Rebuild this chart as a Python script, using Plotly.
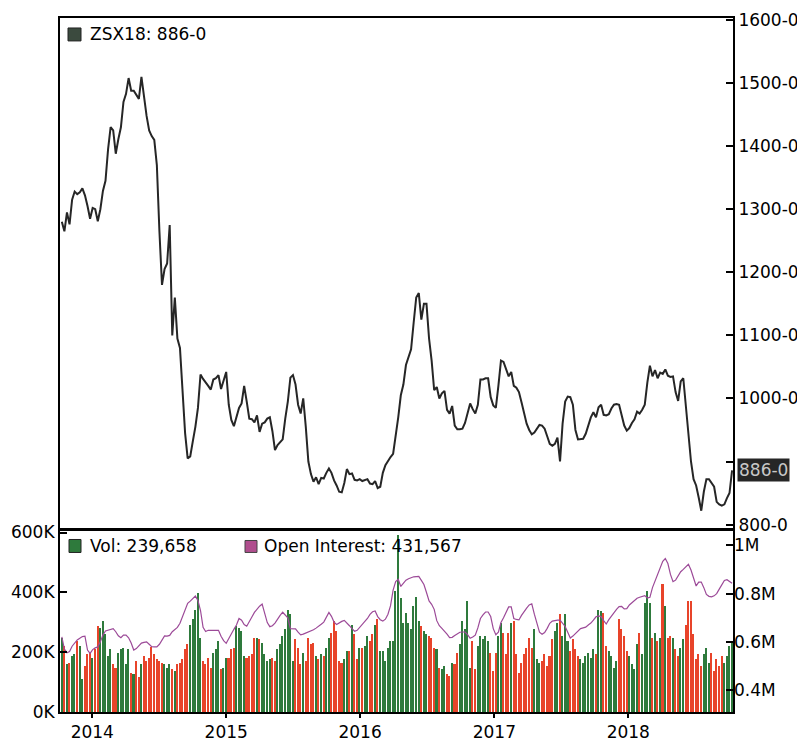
import pandas as pd
import plotly.graph_objects as go

# ---------------- data ----------------
week_start = "2013-10-10"
n_weeks = 262

price = [
    1280, 1265, 1295, 1276, 1315, 1328, 1324, 1327, 1333, 1322,
    1305, 1285, 1302, 1300, 1281, 1300, 1329, 1345, 1395, 1430,
    1425, 1388, 1411, 1430, 1470, 1483, 1508, 1488, 1488, 1482,
    1475, 1510, 1478, 1448, 1425, 1416, 1410, 1370, 1265, 1180,
    1205, 1214, 1275, 1100, 1160, 1095, 1080, 1003, 945, 905,
    908, 932, 955, 985, 1038, 1031, 1026, 1020, 1014, 1030,
    1032, 1037, 1015, 1027, 1042, 990, 966, 956, 970, 985,
    992, 1020, 995, 968, 967, 962, 973, 947, 960, 962,
    968, 970, 948, 918, 926, 931, 935, 968, 995, 1033,
    1037, 1022, 990, 976, 1000, 955, 900, 880, 868, 875,
    864, 874, 873, 882, 889, 882, 870, 862, 852, 851,
    866, 888, 880, 881, 871, 870, 872, 869, 871, 872,
    865, 864, 869, 858, 860, 882, 894, 901, 907, 912,
    940, 970, 1005, 1022, 1053, 1066, 1078, 1120, 1160, 1167,
    1125, 1150, 1150, 1095, 1060, 1013, 1018, 1000, 1008, 1012,
    982, 976, 988, 957, 951, 951, 952, 961, 976, 992,
    983, 976, 990, 1030, 1030, 1032, 1032, 1002, 989, 985,
    1020, 1060, 1058, 1045, 1035, 1042, 1020, 1017, 1010, 994,
    977, 960, 950, 943, 946, 953, 958, 957, 952, 940,
    928, 925, 928, 938, 900, 960, 995, 1003, 1002, 990,
    950, 935, 935, 936, 944, 956, 970, 978, 970, 986,
    990, 974, 973, 975, 984, 990, 991, 990, 973, 957,
    949, 953, 961, 967, 979, 976, 982, 990, 1025, 1052,
    1035, 1045, 1032, 1041, 1039, 1046, 1036, 1034, 1035, 1010,
    996, 1027, 1032, 990, 945, 900, 872, 862, 843, 822,
    852, 872, 872, 866, 860, 836, 832, 830, 832, 842,
    850, 886,
]

volume_k = [
    250, 222, 163, 167, 189, 194, 239, 222, 111, 156,
    194, 200, 183, 211, 289, 283, 306, 261, 189, 211,
    161, 150, 200, 211, 217, 161, 211, 133, 128, 172,
    117, 161, 189, 172, 183, 219, 194, 178, 172, 167,
    161, 150, 161, 144, 139, 161, 167, 178, 211, 228,
    294, 311, 344, 400, 250, 172, 161, 183, 150, 200,
    211, 239, 144, 150, 183, 183, 211, 217, 289, 283,
    272, 189, 183, 189, 194, 250, 250, 244, 233, 194,
    172, 178, 183, 172, 211, 228, 256, 278, 341, 328,
    172, 244, 217, 161, 200, 172, 250, 228, 233, 189,
    178, 194, 189, 217, 250, 267, 306, 272, 172, 167,
    178, 206, 206, 294, 261, 178, 217, 217, 222, 256,
    239, 261, 294, 311, 206, 206, 172, 217, 239, 239,
    406, 594,
    383, 300, 333, 300, 278, 355, 387, 306, 289, 272,
    261, 256, 250, 217, 211, 150, 144, 156, 128, 122,
    167, 161, 200, 228, 306, 278, 372, 150, 239, 144,
    222, 256, 244, 256, 239, 200, 139, 200, 256, 300,
    267, 194, 267, 300, 306, 194, 133, 167, 194, 217,
    250, 217, 278, 178, 167, 172, 194, 156, 189, 244,
    272, 300, 328, 256, 328, 239, 206, 244, 211, 189,
    178, 167, 189, 200, 183, 211, 194, 344, 339, 333,
    222, 206, 189, 150, 172, 311, 278, 256, 206, 189,
    161, 144, 228, 267, 194, 367, 406, 367, 250, 267,
    239, 250, 428, 356, 250, 256, 250, 211, 189, 217,
    244, 294, 372, 372, 261, 178, 194, 156, 194, 217,
    167, 200, 139, 178, 156, 189, 167, 189, 222, 240,
]

open_interest_m = [
    .621, .570, .555, .560, .582, .595, .608, .615, .622, .624,
    .566, .552, .568, .575, .579, .600, .628, .645, .648, .649,
    .655, .642, .625, .617, .628, .628, .617, .595, .566, .572,
    .585, .595, .598, .600, .590, .580, .579, .579, .590, .605,
    .625, .624, .627, .642, .652, .660, .677, .705, .737, .760,
    .769, .780, .790, .772, .730, .660, .643, .648, .648, .648,
    .648, .648, .623, .605, .594, .615, .635, .652, .670, .697,
    .690, .672, .665, .682, .703, .722, .737, .748, .757, .720,
    .680, .663, .667, .678, .696, .710, .723, .712, .700, .655,
    .655, .654, .640, .629, .632, .636, .639, .643, .650, .657,
    .664, .673, .682, .700, .722, .706, .682, .672, .680, .685,
    .689, .680, .667, .655, .644, .648, .660, .670, .681, .697,
    .714, .725, .728, .705, .692, .686, .694, .715, .750, .815,
    .850, .860, .830, .845, .856, .862, .867, .870, .871, .872,
    .855, .838, .805, .770, .756, .735, .688, .667, .656, .645,
    .632, .618, .619, .626, .633, .640, .641, .641, .630, .615,
    .620, .628, .658, .697, .712, .724, .724, .705, .655, .630,
    .640, .680, .700, .723, .745, .745, .697, .693, .691, .710,
    .727, .740, .753, .758, .715, .675, .640, .632, .639, .656,
    .677, .686, .689, .690, .690, .678, .664, .640, .616, .624,
    .635, .645, .655, .658, .661, .670, .678, .690, .704, .708,
    .705, .688, .674, .692, .708, .722, .735, .746, .747, .737,
    .738, .753, .763, .775, .781, .785, .788, .792, .782, .785,
    .825, .853, .880, .909, .934, .946, .925, .880, .850, .856,
    .874, .891, .901, .912, .922, .898, .862, .832, .848, .848,
    .825, .797, .789, .787, .791, .800, .819, .837, .855, .858,
    .851, .843,
]

price_ticks = [800, 900, 1000, 1100, 1200, 1300, 1400, 1500, 1600]
price_tick_labels = ["800-0", "", "1000-0", "1100-0", "1200-0", "1300-0",
                     "1400-0", "1500-0", "1600-0"]
vol_ticks = [0, 200000, 400000, 600000]
vol_tick_labels = ["0K", "200K", "400K", "600K"]
oi_ticks = [400000, 600000, 800000, 1000000]
oi_tick_labels = ["0.4M", "0.6M", "0.8M", "1M"]

symbol = "ZSX18"
last_price_label = "886-0"
last_volume = "239,658"
last_oi = "431,567"

# ---------------- derived ----------------
dates = pd.date_range(week_start, periods=n_weeks, freq="7D")
volume = [v * 1000 for v in volume_k]
open_interest = [v * 1e6 for v in open_interest_m]

GREEN = "#2e7a3c"
RED = "#e8442a"
bar_colors = [GREEN] + [GREEN if price[i] >= price[i - 1] else RED
                        for i in range(1, len(price))]

FONT = "DejaVu Sans"

fig = go.Figure()
fig.add_trace(go.Scatter(x=dates, y=price, mode="lines",
                         line=dict(color="#262626", width=2),
                         xaxis="x", yaxis="y", showlegend=False))
fig.add_trace(go.Bar(x=dates, y=volume, marker=dict(color=bar_colors, line=dict(width=0)),
                     width=7 * 86400000 * 0.6,
                     xaxis="x2", yaxis="y2", showlegend=False))
fig.add_trace(go.Scatter(x=dates, y=open_interest, mode="lines",
                         line=dict(color="#9c4a98", width=1.2),
                         xaxis="x2", yaxis="y3", showlegend=False))

# the page body adds an 8px offset; the figure is sized so the plot lands
# at the target pixel positions in the 805x742 window
OFF = 8
W, H = 805 - OFF, 742 - OFF
L, R, T, B = 60 - OFF, 72, 16 - OFF, 30
ph = H - T - B
pw = W - L - R


def py(px):
    """screen pixel row -> paper y"""
    return (H + OFF - B - px) / ph


def pxx(px):
    """screen pixel column -> paper x"""
    return (px - OFF - L) / pw


xr = ["2013-10-05", "2018-10-13 12:00"]
axis_line = dict(showline=True, linecolor="black", linewidth=2, mirror=True,
                 showgrid=False, zeroline=False)

fig.update_layout(
    width=W, height=H,
    margin=dict(l=L, r=R, t=T, b=B),
    paper_bgcolor="white", plot_bgcolor="white",
    font=dict(family=FONT, size=17, color="black"),
    bargap=0,
    xaxis=dict(domain=[0, 1], anchor="y", range=xr, type="date",
               showticklabels=False, ticks="", matches="x2", **axis_line),
    xaxis2=dict(domain=[0, 1], anchor="y2", range=xr, type="date",
                dtick="M12", tick0="2014-01-01", tickformat="%Y",
                ticks="outside", ticklen=4, tickwidth=2, tickcolor="black",
                automargin=False, **axis_line),
    yaxis=dict(domain=[py(527), 1], anchor="x", side="right",
               range=[795.3, 1603.2], tickvals=price_ticks, ticktext=price_tick_labels,
               ticks="inside", ticklen=7, tickwidth=2, tickcolor="black",
               automargin=False, **axis_line),
    yaxis2=dict(domain=[0, py(530)], anchor="x2", side="left",
                range=[0, 606700], tickvals=vol_ticks, ticktext=vol_tick_labels,
                ticks="inside", ticklen=7, tickwidth=2, tickcolor="black",
                automargin=False, **axis_line),
    yaxis3=dict(overlaying="y2", anchor="x2", side="right",
                range=[309000, 1062000], tickvals=oi_ticks, ticktext=oi_tick_labels,
                ticks="inside", ticklen=7, tickwidth=2, tickcolor="black",
                showgrid=False, zeroline=False, showline=False, automargin=False),
)

# legend-like labels
shapes = [
    dict(type="rect", xref="paper", yref="paper", x0=pxx(68), x1=pxx(81),
         y0=py(39), y1=py(26), fillcolor="#3b4a3e", line=dict(color="#222", width=1)),
    dict(type="rect", xref="paper", yref="paper", x0=pxx(69), x1=pxx(81),
         y0=py(552), y1=py(539), fillcolor=GREEN, line=dict(color="#222", width=1)),
    dict(type="rect", xref="paper", yref="paper", x0=pxx(245), x1=pxx(257),
         y0=py(552), y1=py(540), fillcolor="#b04e8e", line=dict(color="#444", width=1)),
]
fig.update_layout(shapes=shapes)

annotations = [
    dict(text=f"{symbol}: {last_price_label}", xref="paper", yref="paper",
         x=pxx(88), y=py(32), xanchor="left", yanchor="middle", showarrow=False,
         font=dict(family=FONT, size=17, color="black")),
    dict(text=f"Vol: {last_volume}", xref="paper", yref="paper",
         x=pxx(88), y=py(546), xanchor="left", yanchor="middle", showarrow=False,
         font=dict(family=FONT, size=17, color="black")),
    dict(text=f"Open Interest: {last_oi}", xref="paper", yref="paper",
         x=pxx(262), y=py(546), xanchor="left", yanchor="middle", showarrow=False,
         font=dict(family=FONT, size=17, color="black")),
    dict(text=last_price_label, xref="paper", yref="y", x=1, y=price[-1],
         xanchor="left", yanchor="middle", xshift=4, showarrow=False,
         bgcolor="#262626", borderpad=1,
         font=dict(family=FONT, size=17, color="#c8c8c8")),
]
fig.update_layout(annotations=annotations)

fig.write_html("out.html")
